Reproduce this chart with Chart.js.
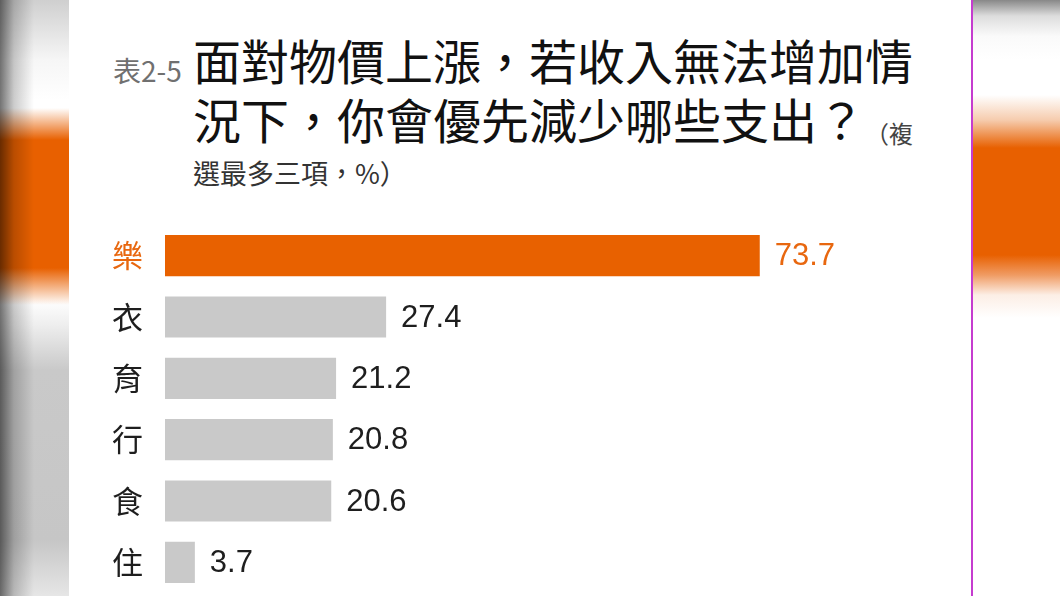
<!DOCTYPE html>
<html>
<head>
<meta charset="utf-8">
<script src="https://cdn.jsdelivr.net/npm/chart.js@4/dist/chart.umd.min.js"></script>
<style>
  html, body { margin: 0; padding: 0; }
  body { width: 1060px; height: 596px; overflow: hidden; background: #fff; position: relative;
         font-family: "Noto Sans CJK TC", "Noto Sans", sans-serif; }
  .side-left { position: absolute; left: 0; top: 0; width: 69px; height: 596px;
    background:
      linear-gradient(to right, rgba(0,0,0,0.55) 0px, rgba(0,0,0,0.2) 14px, rgba(0,0,0,0) 34px),
      linear-gradient(to bottom, rgba(232,96,0,0) 108px, rgba(232,96,0,1) 140px, rgba(232,96,0,1) 268px, rgba(232,96,0,0) 305px),
      linear-gradient(to bottom, #cfcfcf 0px, #f6f6f6 60px, #fff 100px, #fff 300px, #eee 325px, #c9c9c9 370px, #c6c6c6 540px, #e6e6e6 596px);
  }
  .side-right { position: absolute; left: 973px; top: 0; width: 87px; height: 596px;
    background:
      linear-gradient(to bottom, rgba(232,96,0,0) 95px, rgba(240,170,120,0.6) 120px, rgba(232,96,0,1) 148px, rgba(232,96,0,1) 255px, rgba(236,130,60,0.8) 275px, rgba(245,200,170,0.3) 295px, rgba(232,96,0,0) 318px),
      linear-gradient(to bottom, #888 0px, #ddd 16px, #fafafa 36px, #fff 60px, #fff 596px);
  }
  .edge { position: absolute; left: 971px; top: 0; width: 2px; height: 596px; background: #c53ccf; }
  .t { position: absolute; white-space: nowrap; }
</style>
</head>
<body>
<div class="side-left"></div>
<div class="side-right"></div>
<div class="edge"></div>

<div class="t" style="left:113px; top:56px; font-size:28px; line-height:28px; color:#707070;">表2-5</div>
<div class="t" style="left:193px; top:35px; font-size:48px; line-height:48px; color:#111;">面對物價上漲，若收入無法增加情</div>
<div class="t" style="left:193px; top:94px; font-size:48px; line-height:48px; color:#111;">況下，你會優先減少哪些支出？</div>
<div class="t" style="left:865px; top:121px; font-size:24px; line-height:24px; color:#444;">（複</div>
<div class="t" style="left:193px; top:159px; font-size:27px; line-height:27px; color:#333;">選最多三項，%）</div>

<canvas id="chart" width="1060" height="596" style="position:absolute; left:0; top:0;"></canvas>

<script>
const categories = ['樂', '衣', '育', '行', '食', '住'];
const values = [73.7, 27.4, 21.2, 20.8, 20.6, 3.7];
const barColors = ['#e86100', '#c9c9c9', '#c9c9c9', '#c9c9c9', '#c9c9c9', '#c9c9c9'];
const textColors = ['#e8670f', '#1e1e1e', '#1e1e1e', '#1e1e1e', '#1e1e1e', '#1e1e1e'];

// value labels at the end of each bar
const valueLabels = {
    id: 'valueLabels',
    afterDatasetsDraw(chart) {
        const ctx = chart.ctx;
        const meta = chart.getDatasetMeta(0);
        ctx.save();
        ctx.font = '31px "Liberation Sans", Arial, sans-serif';
        ctx.textAlign = 'left';
        ctx.textBaseline = 'middle';
        meta.data.forEach(function (bar, i) {
            ctx.fillStyle = textColors[i];
            ctx.fillText(values[i].toFixed(1), bar.x + 15, bar.y + 1);
        });
        ctx.restore();
    }
};

new Chart(document.getElementById('chart').getContext('2d'), {
    type: 'bar',
    data: {
        labels: categories,
        datasets: [{
            data: values,
            backgroundColor: barColors,
            borderWidth: 0,
            barPercentage: 0.67,
            categoryPercentage: 1
        }]
    },
    options: {
        indexAxis: 'y',
        responsive: false,
        animation: false,
        layout: { padding: { left: 113, top: 225, bottom: 3, right: 88 } },
        scales: {
            x: { display: false, min: 0, max: 100 },
            y: {
                grid: { display: false, drawTicks: false },
                border: { display: false },
                afterFit: function (scale) {
                    scale.width = 52;
                    scale.paddingTop = 0;
                    scale.paddingBottom = 0;
                },
                ticks: {
                    padding: 22,
                    font: { size: 31, family: '"Noto Sans CJK TC", sans-serif' },
                    color: function (c) { return textColors[c.index]; }
                }
            }
        },
        plugins: {
            legend: { display: false },
            tooltip: { enabled: false }
        }
    },
    plugins: [valueLabels]
});
</script>
</body>
</html>
